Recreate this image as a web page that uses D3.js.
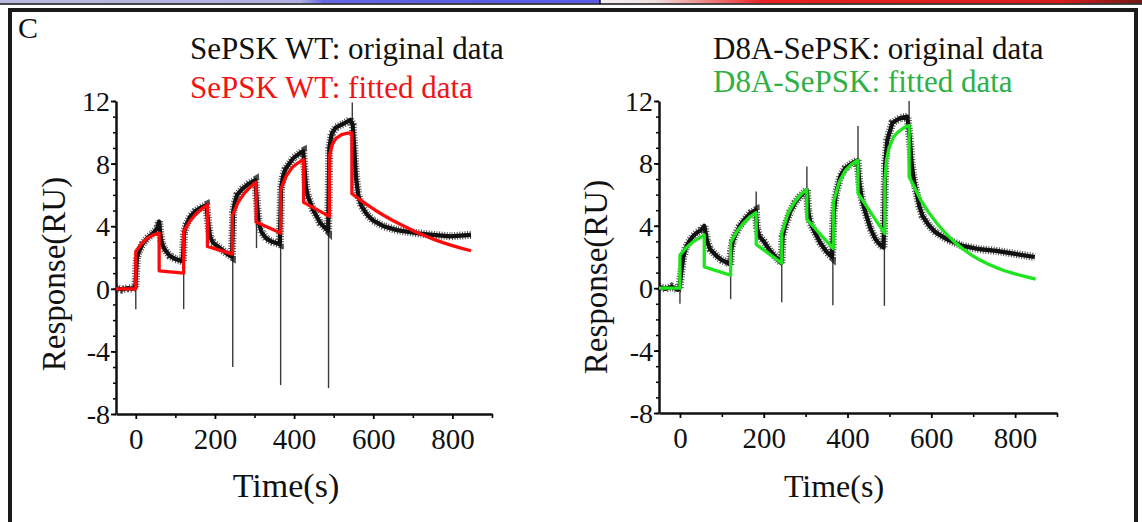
<!DOCTYPE html>
<html>
<head>
<meta charset="utf-8">
<title>SPR kinetics - SePSK WT / D8A-SePSK</title>
<script src="https://d3js.org/d3.v7.min.js"></script>
<style>
  body { margin: 0; background: #fff; }
  svg text { font-family: "Liberation Serif", "Times New Roman", serif; }
</style>
</head>
<body>
<svg id="fig" width="1142" height="522"></svg>
<script>
// ---- data: [time (s), response (RU)] ----
var wtOriginal = [
  [-50,0.05],[-35,-0.05],[-20,0.05],[-8,0.0],[-1,0.05],
  [1,1.2],[3,2.0],[8,2.4],[18,2.9],[30,3.25],[44,3.55],[55,3.9],[59,4.3],
  [62,3.5],[66,2.9],[72,2.55],[86,2.1],[100,1.9],[119,1.75],
  [122,3.6],[128,4.1],[137,4.6],[150,4.95],[162,5.15],[178,5.35],
  [184,4.0],[188,3.3],[195,2.95],[213,2.6],[230,2.25],[243,2.05],
  [246,4.9],[250,5.5],[256,6.0],[270,6.4],[285,6.7],[302,6.95],
  [306,5.5],[310,4.3],[318,3.6],[330,3.2],[345,3.0],[364,2.85],
  [367,6.4],[372,7.2],[378,7.65],[398,8.35],[419,8.75],[423,8.8],
  [426,7.8],[430,6.5],[435,5.9],[448,5.05],[466,4.2],[486,3.7],
  [489,9.0],[495,9.9],[505,10.3],[525,10.55],[542,10.8],
  [548,10.5],[552,9.0],[556,7.2],[562,6.0],[570,5.3],[584,4.75],[600,4.35],
  [626,4.0],[660,3.75],[711,3.55],[750,3.45],[795,3.35],[847,3.45]
];
var wtFitted = [
  [-50,0],[0,0],[0,2.39],[15,2.9],[30,3.25],[45,3.45],[59,3.56],
  [59,1.15],[121,1.0],
  [121,3.67],[136,4.3],[151,4.75],[166,5.1],[181,5.37],
  [181,2.71],[244,2.22],
  [244,4.67],[259,5.55],[274,6.1],[289,6.5],[304,6.8],
  [304,4.27],[366,3.56],
  [366,6.33],[380,7.2],[395,7.75],[410,8.05],[424,8.25],
  [424,5.52],[489,4.63],
  [489,8.47],[496,9.2],[505,9.6],[520,9.85],[535,9.95],[546,9.96],
  [546,6.08],[565,5.72],[584,5.38],[605,5.02],[626,4.7],[647,4.4],[668,4.12],
  [690,3.85],[710,3.6],[732,3.37],[753,3.16],[776,2.95],[800,2.76],[824,2.58],[847,2.43]
];
// injection spikes: [time, from, to]
var wtSpikes = [
  [0,0.3,-1.3],[121,1.75,-1.3],[245,2.05,-5.0],[305,6.9,2.6],
  [366,2.85,-6.15],[487,3.7,-6.35],[547,10.8,11.9]
];

var d8aOriginal = [
  [-50,0.1],[-35,-0.05],[-20,0.1],[-5,-0.1],[-1,0.0],
  [3,1.0],[8,2.0],[14,2.6],[20,2.9],[30,3.3],[40,3.55],[52,3.75],[58,4.0],
  [61,3.6],[65,3.0],[72,2.5],[88,2.05],[100,1.8],[116,1.6],[120,1.5],
  [122,2.4],[126,3.0],[131,3.35],[142,3.95],[154,4.4],[170,4.85],[181,5.0],
  [184,3.8],[190,3.3],[200,3.0],[215,2.4],[232,1.9],[242,1.6],
  [245,3.3],[250,3.9],[263,4.9],[275,5.5],[287,5.9],[303,6.3],
  [306,5.0],[311,4.2],[319,3.75],[335,2.9],[351,2.3],[363,2.0],
  [367,4.8],[372,6.0],[383,7.2],[395,7.7],[410,8.0],[424,8.2],
  [428,6.8],[435,5.6],[443,4.84],[455,3.8],[467,3.13],[477,2.8],[486,2.6],
  [490,8.0],[495,9.5],[507,10.6],[525,10.9],[543,11.0],
  [549,9.5],[553,8.0],[558,7.0],[563,6.33],[571,5.3],[579,4.63],[595,4.0],
  [611,3.56],[640,3.1],[675,2.71],[715,2.5],[755,2.39],[800,2.2],[847,2.0]
];
var d8aFitted = [
  [-50,0],[0,0],[0,2.13],[15,2.6],[30,2.95],[45,3.2],[58,3.41],
  [58,1.37],[121,0.83],
  [121,2.92],[136,3.65],[151,4.15],[166,4.55],[182,4.84],
  [182,2.81],[243,1.6],
  [243,3.52],[258,4.8],[273,5.5],[288,6.0],[303,6.33],
  [303,4.41],[366,2.54],
  [366,5.48],[380,6.8],[395,7.55],[410,7.95],[425,8.21],
  [425,6.08],[489,3.5],
  [489,6.9],[493,8.2],[499,9.0],[510,9.7],[520,10.0],[535,10.3],[547,10.43],
  [547,7.15],[560,6.45],[575,5.65],[595,4.8],[615,4.1],[635,3.5],[655,2.97],
  [675,2.52],[695,2.14],[715,1.82],[735,1.55],[755,1.32],[775,1.12],[800,0.92],
  [825,0.74],[849,0.58]
];
var d8aSpikes = [
  [0,0.3,-1.0],[121,1.5,-0.7],[182,5.0,6.2],[243,1.6,-0.9],[303,6.3,7.8],
  [365,2.0,-1.1],[425,8.2,10.4],[488,2.6,-1.13],[547,11.0,12.0]
];

var yMajorTicks = [-8,-4,0,4,8,12];
var yMinorTicks = [-8,-7,-6,-5,-4,-3,-2,-1,0,1,2,3,4,5,6,7,8,9,10,11,12];
var xMajorTicks = [0,200,400,600,800];
var xMinorTicks = [100,300,500,700,900];

var wtLabels = ["SePSK WT: original data", "SePSK WT: fitted data"];
var d8aLabels = ["D8A-SePSK: original data", "D8A-SePSK: fitted data"];

// ---- drawing ----
var svg = d3.select("#fig");

// strip of the panel above (gradient bar)
var defs = svg.append("defs");
var gL = defs.append("linearGradient").attr("id", "gl");
gL.append("stop").attr("offset", "0%").attr("stop-color", "#b9b9dd");
gL.append("stop").attr("offset", "50%").attr("stop-color", "#b0b0e2");
gL.append("stop").attr("offset", "54%").attr("stop-color", "#6464e4");
gL.append("stop").attr("offset", "100%").attr("stop-color", "#5a5ae6");
var gR = defs.append("linearGradient").attr("id", "gr");
gR.append("stop").attr("offset", "0%").attr("stop-color", "#f2f2f6");
gR.append("stop").attr("offset", "10%").attr("stop-color", "#f0e0e0");
gR.append("stop").attr("offset", "30%").attr("stop-color", "#e82222");
gR.append("stop").attr("offset", "85%").attr("stop-color", "#d81c1c");
gR.append("stop").attr("offset", "100%").attr("stop-color", "#701818");
svg.append("rect").attr("x", 0).attr("y", 0).attr("width", 600).attr("height", 3.5).attr("fill", "url(#gl)");
svg.append("rect").attr("x", 600).attr("y", 0).attr("width", 542).attr("height", 3.5).attr("fill", "url(#gr)");
svg.append("line").attr("x1", 0).attr("x2", 1142).attr("y1", 4).attr("y2", 4).attr("stroke", "#111").attr("stroke-width", 1.6);
svg.append("line").attr("x1", 600).attr("x2", 600).attr("y1", 0).attr("y2", 4).attr("stroke", "#111").attr("stroke-width", 1.5);

// frame of panel C
svg.append("path")
  .attr("d", "M10,530 L10,10 L1136,10 L1136,530")
  .attr("fill", "none").attr("stroke", "#1a1a1a").attr("stroke-width", 4);

svg.append("text").attr("x", 18).attr("y", 38)
  .style("font-size", "30px").attr("fill", "#111").text("C");

function drawPanel(opt) {
  var x = d3.scaleLinear().domain([-50, 900]).range(opt.xr);
  var y = d3.scaleLinear().domain([-8, 12]).range(opt.yr);
  var g = svg.append("g");
  var plain = function(d){ return String(d); };   // hyphen minus like the original

  // y axis: minor then major
  g.append("g").attr("transform", "translate(" + opt.xr[0] + ",0)")
    .call(d3.axisLeft(y).tickValues(yMinorTicks).tickSize(3).tickSizeOuter(0).tickFormat(""))
    .call(function(a){ a.select(".domain").remove(); a.selectAll("line").attr("stroke-width", 1.5); });
  g.append("g").attr("transform", "translate(" + opt.xr[0] + ",0)")
    .call(d3.axisLeft(y).tickValues(yMajorTicks).tickSize(5).tickSizeOuter(0).tickPadding(1).tickFormat(plain))
    .call(function(a){
      a.select(".domain").attr("stroke-width", 2.5).attr("stroke", "#111");
      a.selectAll("line").attr("stroke-width", 1.8);
      a.selectAll("text").style("font-size", "28px").attr("fill", "#111")
        .attr("font-family", null).attr("dy", "0.34em");
    });

  // x axis
  g.append("g").attr("transform", "translate(0," + opt.yr[0] + ")")
    .call(d3.axisBottom(x).tickValues(xMinorTicks).tickSize(4).tickSizeOuter(0).tickFormat(""))
    .call(function(a){ a.select(".domain").remove(); a.selectAll("line").attr("stroke-width", 1.6); });
  g.append("g").attr("transform", "translate(0," + opt.yr[0] + ")")
    .call(d3.axisBottom(x).tickValues(xMajorTicks).tickSize(5).tickSizeOuter(0).tickPadding(9).tickFormat(plain))
    .call(function(a){
      a.select(".domain").attr("stroke-width", 2.5).attr("stroke", "#111");
      a.selectAll("line").attr("stroke-width", 1.8);
      a.selectAll("text").style("font-size", "29px").attr("fill", "#111").attr("font-family", null);
    });

  var line = d3.line().x(function(d){ return x(d[0]); }).y(function(d){ return y(d[1]); });

  // spikes
  g.selectAll(".spike").data(opt.spikes).enter().append("line")
    .attr("class", "spike")
    .attr("x1", function(d){ return x(d[0]); }).attr("x2", function(d){ return x(d[0]); })
    .attr("y1", function(d){ return y(d[1]); }).attr("y2", function(d){ return y(d[2]); })
    .attr("stroke", "#3a3a3a").attr("stroke-width", 1.4);

  // original (noisy) trace: dashed wide stroke gives a ragged edge, solid core on top
  g.append("path").datum(opt.original)
    .attr("d", line).attr("fill", "none")
    .attr("stroke", "#111").attr("stroke-width", 8).attr("stroke-opacity", 0.75)
    .attr("stroke-dasharray", "1,1.6");
  g.append("path").datum(opt.original)
    .attr("d", line).attr("fill", "none")
    .attr("stroke", "#111").attr("stroke-width", 4.2)
    .attr("stroke-linejoin", "round");

  // fitted
  g.append("path").datum(opt.fitted)
    .attr("d", line).attr("fill", "none")
    .attr("stroke", opt.fitColor).attr("stroke-width", 3.3)
    .attr("stroke-linejoin", "round");

  // titles
  svg.append("text").attr("x", opt.titleX).attr("y", 59)
    .style("font-size", "31px").attr("fill", "#111").text(opt.labels[0]);
  svg.append("text").attr("x", opt.titleX).attr("y", opt.title2Y)
    .style("font-size", "31px").attr("fill", opt.textColor).text(opt.labels[1]);

  // axis titles
  svg.append("text")
    .attr("transform", "translate(" + opt.ylabX + "," + opt.ylabY + ") rotate(-90)")
    .attr("text-anchor", "middle").style("font-size", "33px").attr("fill", "#111")
    .text("Response(RU)");
  svg.append("text").attr("x", opt.xlabX).attr("y", 497)
    .attr("text-anchor", "middle").style("font-size", opt.xlabSize).attr("fill", "#111")
    .text("Time(s)");
}

drawPanel({
  xr: [116, 492], yr: [414, 101],
  original: wtOriginal, fitted: wtFitted, spikes: wtSpikes,
  fitColor: "#ff0a0a", textColor: "#f01414", labels: wtLabels,
  titleX: 190, title2Y: 98, ylabX: 65, ylabY: 274, xlabX: 286, xlabSize: "34px"
});
drawPanel({
  xr: [659, 1057], yr: [413, 101],
  original: d8aOriginal, fitted: d8aFitted, spikes: d8aSpikes,
  fitColor: "#1ee61e", textColor: "#2db044", labels: d8aLabels,
  titleX: 713, title2Y: 92, ylabX: 607, ylabY: 277, xlabX: 834, xlabSize: "32px"
});
</script>
</body>
</html>
